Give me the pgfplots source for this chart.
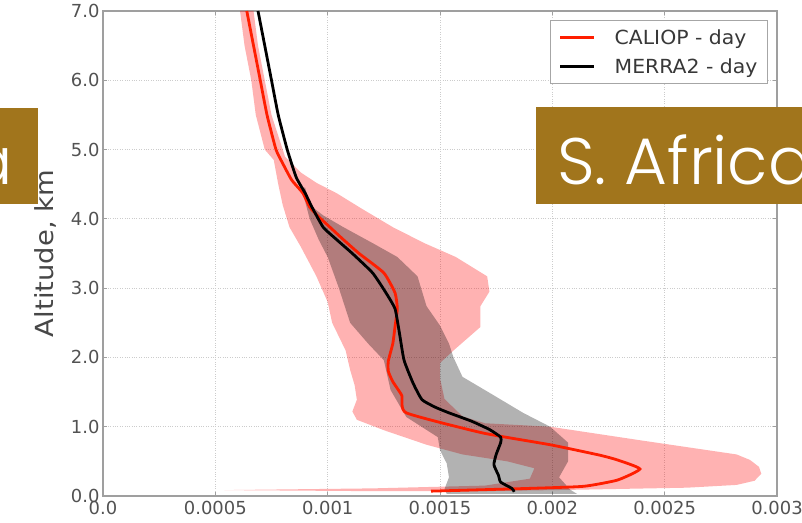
\documentclass[border=0pt]{standalone}
\usepackage{pgfplots}
\pgfplotsset{compat=1.18}
\usepackage{fontspec}
\setmainfont{DejaVu Sans}
\newfontfamily\chartfont{DejaVu Sans}
\newfontfamily\legfont{DejaVu Sans}[FakeStretch=1.05]
\newfontfamily\labfont{DejaVu Sans}[FakeStretch=1.1]
\newfontfamily\gothic{Poppins}[UprightFont=* Light]
\definecolor{brownbox}{RGB}{161,117,28}
\definecolor{cred}{RGB}{255,30,0}
\begin{document}
\begin{tikzpicture}
\begin{axis}[
 at={(103bp,27bp)}, anchor=south west,
 scale only axis, width=674bp, height=485bp,
 xmin=0, xmax=0.003, ymin=0, ymax=7,
 xtick={0,0.0005,0.001,0.0015,0.002,0.0025,0.003},
 xticklabels={0.0,0.0005,0.001,0.0015,0.002,0.0025,0.003},
 ytick={0,1,2,3,4,5,6,7},
 yticklabels={0.0,1.0,2.0,3.0,4.0,5.0,6.0,7.0},
 scaled x ticks=false,
 grid=major,
 grid style={dotted, gray!40, line width=0.9bp},
 axis line style={gray!75, line width=1.6bp},
 tick style={gray!75, line width=1bp},
 tick align=inside, tick pos=both, major tick length=4bp,
 tick label style={font=\chartfont\fontsize{18}{20}\selectfont, text=black!68},
 xticklabel style={yshift=-2bp},
 ylabel={Altitude, km},
 ylabel style={at={(rel axis cs:-0.0846,0.5)}, anchor=center, font=\labfont\fontsize{25}{27}\selectfont, text=black!72},
 legend style={at={(rel axis cs:0.9866,0.9814)}, anchor=north east, draw=gray!70, line width=1bp, fill=white,
   font=\legfont\fontsize{19.5}{21}\selectfont, text=black!78, row sep=9bp, inner xsep=8bp, inner ysep=7bp,
   /tikz/every odd column/.append style={column sep=17bp}},
 legend cell align=left,
 legend image code/.code={\draw[#1] (0bp,0bp) -- (34bp,0bp);},
]
% CALIOP range
\addplot[fill=red, fill opacity=0.3, draw=none, forget plot] coordinates {
(0.00061,7.0) (0.00063,6.5) (0.00066,6.0) (0.00068,5.5) (0.00072,5.0) (0.00076,4.85) (0.00078,4.5) (0.0008,4.2) (0.00083,3.88)
(0.00088,3.6) (0.00095,3.17) (0.001,2.8) (0.00102,2.5) (0.00105,2.3) (0.00108,2.1) (0.0011,1.82)
(0.00112,1.6) (0.00113,1.39) (0.00111,1.22) (0.00113,1.1) (0.00125,0.95) (0.00144,0.74) (0.0016,0.6) (0.0018,0.5)
(0.00192,0.4) (0.0019,0.25) (0.0017,0.15) (0.0012,0.11) (0.00054,0.085) (0.0012,0.07)
(0.0017,0.07) (0.0021,0.09) (0.0026,0.12) (0.00282,0.16) (0.0029,0.22) (0.00293,0.32) (0.00292,0.42)
(0.00288,0.52) (0.00282,0.6) (0.0024,0.8) (0.00199,1.0) (0.0017,1.05) (0.0016,1.15)
(0.00152,1.4) (0.0015,1.7) (0.0015,1.92) (0.00156,2.1) (0.00168,2.44) (0.00168,2.74)
(0.00172,2.95) (0.00171,3.17) (0.00157,3.45) (0.00143,3.65) (0.00129,3.88) (0.00115,4.15) (0.00104,4.37)
(0.00095,4.52) (0.00088,4.67) (0.00081,4.9) (0.00078,5.2) (0.00075,5.5) (0.00072,6.0) (0.00069,6.5) (0.00067,7.0)
} -- cycle;
% MERRA2 range
\addplot[fill=black, fill opacity=0.3, draw=none, forget plot] coordinates {
(0.00088,4.45) (0.00089,4.37) (0.00092,4.0) (0.00096,3.7) (0.001,3.45) (0.00105,3.0)
(0.0011,2.5) (0.00118,2.2) (0.00125,1.96) (0.00128,1.53) (0.00135,1.14) (0.00149,0.85) (0.0015,0.66)
(0.00153,0.47) (0.00154,0.27) (0.00152,0.1) (0.00153,0.03)
(0.00211,0.03) (0.00208,0.09) (0.00203,0.27) (0.00207,0.5) (0.00207,0.77) (0.00199,1.0)
(0.00187,1.2) (0.00172,1.49) (0.0016,1.72) (0.00156,2.0) (0.00154,2.2) (0.0015,2.46)
(0.00144,2.74) (0.0014,3.17) (0.00131,3.45) (0.0012,3.65) (0.00107,3.88) (0.00098,4.05) (0.00092,4.2) (0.0009,4.45)
} -- cycle;
\addplot[cred, line width=2.8bp, smooth, tension=0.3] coordinates {
(0.00064,7.0) (0.00067,6.5) (0.0007,6.0) (0.00073,5.5) (0.00077,5.0) (0.0008,4.8) (0.00084,4.56)
(0.00089,4.37) (0.00092,4.17) (0.00096,4.03) (0.00101,3.88) (0.00107,3.7) (0.00114,3.5) (0.00125,3.22) (0.0013,2.93)
(0.00131,2.7) (0.0013,2.45) (0.00129,2.2) (0.00127,1.95) (0.00127,1.8) (0.00129,1.65) (0.00133,1.45)
(0.00135,1.2) (0.00169,0.91) (0.00199,0.74) (0.00221,0.59) (0.00229,0.52) (0.00239,0.39)
(0.00229,0.23) (0.00214,0.14) (0.0019,0.11) (0.00146,0.07)
};
\addlegendentry{CALIOP - day}
\addplot[black, line width=2.8bp, smooth, tension=0.3] coordinates {
(0.00069,7.0) (0.00072,6.5) (0.00075,6.0) (0.00078,5.5) (0.00082,5.0) (0.00086,4.6)
(0.0009,4.37) (0.00093,4.17) (0.00098,3.88) (0.00104,3.7) (0.00111,3.5) (0.0012,3.22) (0.00126,2.93)
(0.0013,2.7) (0.00132,2.34) (0.00134,1.96) (0.00138,1.63) (0.00142,1.39) (0.00148,1.28)
(0.00154,1.2) (0.00164,1.08) (0.00172,0.96) (0.00177,0.85) (0.00177,0.77) (0.00175,0.6)
(0.00174,0.45) (0.00176,0.3) (0.00177,0.2) (0.00182,0.11) (0.00183,0.06)
};
\addlegendentry{MERRA2 - day}
\end{axis}
\pgfresetboundingbox
\path[use as bounding box] (0,0) rectangle (802bp,523bp);
\fill[brownbox] (536bp,319bp) rectangle (812bp,416bp);
\node[anchor=base west, text=white, font=\gothic\fontsize{66}{70}\selectfont, inner sep=0pt] at (557bp,338bp) {S. Africa};
\fill[brownbox] (-10bp,319bp) rectangle (38bp,415bp);
\node[anchor=base east, text=white, font=\gothic\fontsize{66}{70}\selectfont, inner sep=0pt] at (13bp,338bp) {a};
\end{tikzpicture}
\end{document}
